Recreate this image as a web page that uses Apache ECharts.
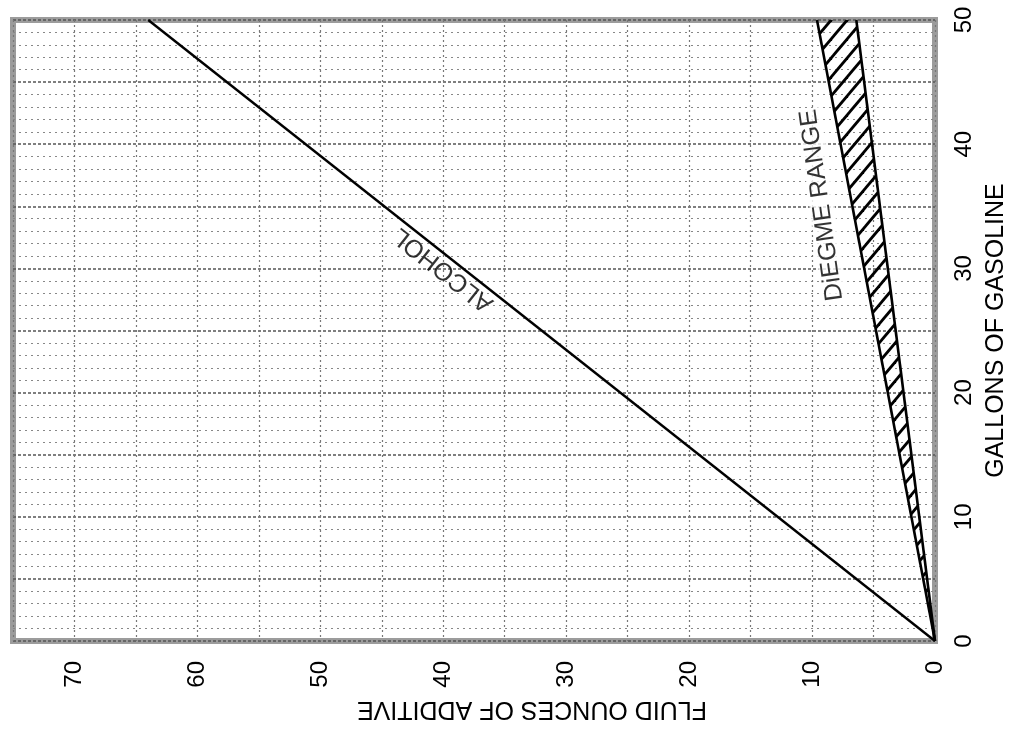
<!DOCTYPE html>
<html><head><meta charset="utf-8">
<script src="https://cdn.jsdelivr.net/npm/echarts@6/dist/echarts.min.js"></script>
<style>html,body{margin:0;padding:0;background:#fff}#c{width:1009px;height:733px}</style>
</head><body><div id="c"></div><script>
// ---- data ----
const gallons = [0, 50];
const alcoholOz = [0, 64];
const diegmeLowOz = [0, 6.4];
const diegmeHighOz = [0, 9.6];
const ozTickLabels = [0, 10, 20, 30, 40, 50, 60, 70];
const galTickLabels = [0, 10, 20, 30, 40, 50];
const ozRange = [0, 75];
const galRange = [0, 50];
const alcoholLabel = 'ALCOHOL';
const diegmeLabel = 'DiEGME RANGE';

function makeHatch() {
  const w = 16, h = 19;
  const c = document.createElement('canvas');
  c.width = w; c.height = h;
  const g = c.getContext('2d');
  g.strokeStyle = '#000'; g.lineWidth = 2.8;
  for (const dx of [-w, 0, w]) {
    g.beginPath(); g.moveTo(dx - w, 2 * h); g.lineTo(dx + 2 * w, -h); g.stroke();
  }
  return c;
}
const hatchCanvas = makeHatch();
const FONT = '"Liberation Sans", Arial, sans-serif';

const chart = echarts.init(document.getElementById('c'), null, {renderer: 'canvas'});
chart.setOption({
  animation: false,
  backgroundColor: '#fff',
  grid: {left: 13, right: 74, top: 20, bottom: 92, show: true, borderColor: '#9c9c9c', borderWidth: 6, backgroundColor: 'transparent', outerBoundsMode: 'none'},
  xAxis: {
    type: 'value', inverse: true, min: ozRange[0], max: ozRange[1], interval: 5,
    name: 'FLUID OUNCES OF ADDITIVE', nameLocation: 'middle', nameRotate: 180, nameGap: 55,
    nameTextStyle: {fontFamily: FONT, fontSize: 25, color: '#000', padding: [0, 116, 0, 0]},
    axisLine: {show: false}, axisTick: {show: false},
    axisLabel: {rotate: 90, margin: 20, fontFamily: FONT, fontSize: 24, color: '#000',
      formatter: v => ozTickLabels.includes(v) ? String(v) : ''},
    splitLine: {show: true, lineStyle: {color: '#777', type: [2, 3], width: 1.2}}
  },
  yAxis: {
    type: 'value', position: 'right', min: galRange[0], max: galRange[1], interval: 5,
    name: 'GALLONS OF GASOLINE', nameLocation: 'middle', nameRotate: 90, nameGap: 46,
    nameTextStyle: {fontFamily: FONT, fontSize: 25, color: '#000'},
    axisLine: {show: false}, axisTick: {show: false},
    axisLabel: {rotate: 90, margin: 17, fontFamily: FONT, fontSize: 24, color: '#000',
      formatter: v => galTickLabels.includes(v) ? String(v) : ''},
    splitLine: {show: true, lineStyle: {color: '#555', type: [3, 2], width: 1.6}},
    minorTick: {show: false, splitNumber: 5},
    minorSplitLine: {show: true, lineStyle: {color: '#888', type: [2, 4], width: 1}}
  },
  series: [
    {
      type: 'custom', z: 3, silent: true,
      data: [[0, 0]],
      renderItem: function (params, api) {
        const pts = [];
        for (let i = 0; i < gallons.length; i++) pts.push(api.coord([diegmeHighOz[i], gallons[i]]));
        for (let i = gallons.length - 1; i >= 0; i--) pts.push(api.coord([diegmeLowOz[i], gallons[i]]));
        return {type: 'polygon', shape: {points: pts}, style: {fill: {image: hatchCanvas, repeat: 'repeat'}, stroke: null}};
      }
    },
    {type: 'line', z: 4, symbol: 'none', silent: true, lineStyle: {color: '#000', width: 2.6},
      data: gallons.map((g, i) => [diegmeHighOz[i], g])},
    {type: 'line', z: 4, symbol: 'none', silent: true, lineStyle: {color: '#000', width: 2.6},
      data: gallons.map((g, i) => [diegmeLowOz[i], g])},
    {type: 'line', z: 4, symbol: 'none', silent: true, lineStyle: {color: '#000', width: 2.4},
      data: gallons.map((g, i) => [alcoholOz[i], g])},
    {type: 'scatter', z: 5, silent: true, symbolSize: 0,
      data: [[40, 29.9]],
      label: {show: true, position: 'inside', formatter: alcoholLabel, rotate: 141.7,
        fontFamily: FONT, fontSize: 25, color: '#000', textBorderWidth: 0}},
    {type: 'scatter', z: 5, silent: true, symbolSize: 0,
      data: [[9.2, 35.1]],
      label: {show: true, position: 'inside', formatter: diegmeLabel, rotate: 98,
        fontFamily: FONT, fontSize: 25, color: '#000', textBorderWidth: 0, backgroundColor: '#fff', padding: [0, 1]}}
  ]
});
</script></body></html>
